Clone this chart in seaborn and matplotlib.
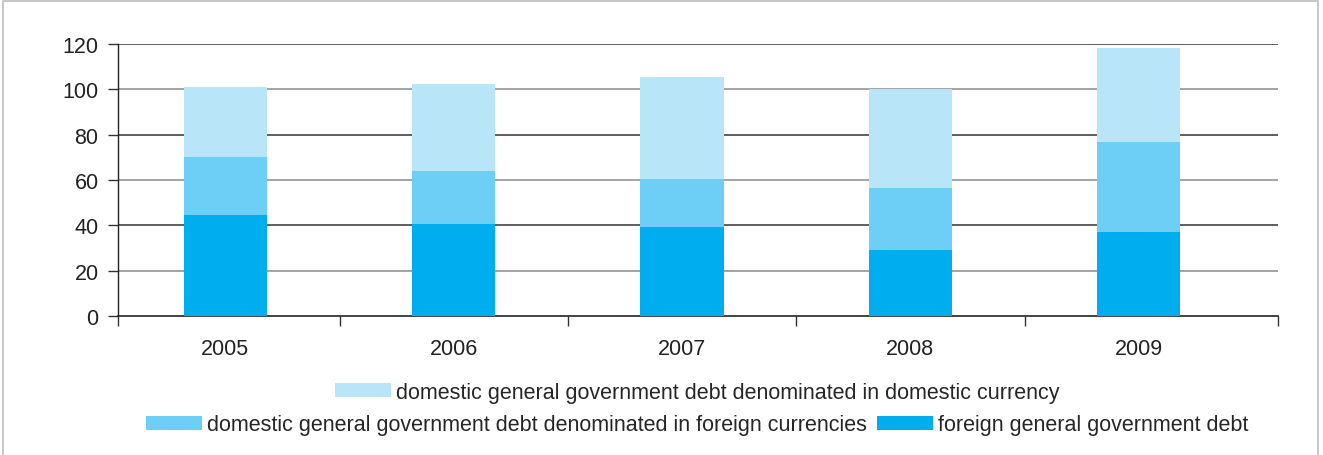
import numpy as np
import seaborn as sns
import matplotlib.pyplot as plt
from matplotlib.patches import Patch, Rectangle
from matplotlib.ticker import FixedLocator

years = ["2005", "2006", "2007", "2008", "2009"]
foreign_debt = [44.6, 40.6, 39.3, 29.1, 37.1]
dom_foreign_cur = [25.5, 23.4, 21.1, 27.4, 39.7]
dom_domestic_cur = [30.9, 38.3, 45.0, 43.6, 41.4]

labels = ["domestic general government debt denominated in domestic currency",
          "domestic general government debt denominated in foreign currencies",
          "foreign general government debt"]
colors = ["#B9E5F9", "#6DCFF6", "#00AEEF"]

sns.set_style("white")
plt.rcParams['font.family'] = ['Liberation Sans', 'DejaVu Sans']
plt.rcParams['font.size'] = 15.5

f = np.array(foreign_debt)
m = f + np.array(dom_foreign_cur)
t = m + np.array(dom_domestic_cur)

fig = plt.figure(figsize=(13.23, 4.56), dpi=100)
ax = fig.add_axes([0.0892, 0.3048, 0.8768, 0.5965])

# stacked bars drawn back to front (totals first)
for vals, c in zip([t, m, f], colors):
    sns.barplot(x=years, y=vals, color=c, saturation=1, width=0.365, ax=ax,
                zorder=3, linewidth=0, edgecolor="none")

ax.set_xlim(-0.47, 4.61)
ax.set_ylim(0, 120)
ax.set_yticks(range(0, 121, 20))
for y in range(20, 121, 20):
    ax.axhline(y, color="#333333" if y % 40 == 0 else "#8a8a8a", lw=1.1, zorder=1)

for s in ["top", "right"]:
    ax.spines[s].set_visible(False)
ax.spines["left"].set_color("#222222")
ax.spines["bottom"].set_color("#222222")
ax.spines["left"].set_linewidth(1.0)
ax.spines["bottom"].set_linewidth(1.2)

ax.tick_params(axis="y", left=True, length=7, width=1, color="#333333", pad=7, labelcolor="#222222")
ax.tick_params(axis="x", which="major", bottom=True, length=0, pad=16, labelcolor="#222222")
ax.xaxis.set_minor_locator(FixedLocator([-0.47, 0.5, 1.5, 2.5, 3.5, 4.61]))
ax.tick_params(axis="x", which="minor", bottom=True, length=7, width=1, color="#333333")
ax.set_xlabel("")
ax.set_ylabel("")

h = [Patch(facecolor=c, edgecolor="none") for c in colors]
fig.legend([h[0]], [labels[0]], loc="center", bbox_to_anchor=(0.527, 0.138),
           frameon=False, handlelength=2.6, handleheight=0.65, handletextpad=0.2,
           fontsize=15.5, borderaxespad=0, borderpad=0)
fig.legend(h[1:], labels[1:], loc="center", bbox_to_anchor=(0.527, 0.066), ncol=2,
           frameon=False, handlelength=2.6, handleheight=0.65, handletextpad=0.2,
           columnspacing=0.5, fontsize=15.5, borderaxespad=0, borderpad=0)

fig.patches.append(Rectangle((0.002, -0.1), 0.994, 1.096, transform=fig.transFigure,
                             fill=False, edgecolor="#bdbdbd", lw=1.2))

fig.savefig("out.png", dpi=100)
